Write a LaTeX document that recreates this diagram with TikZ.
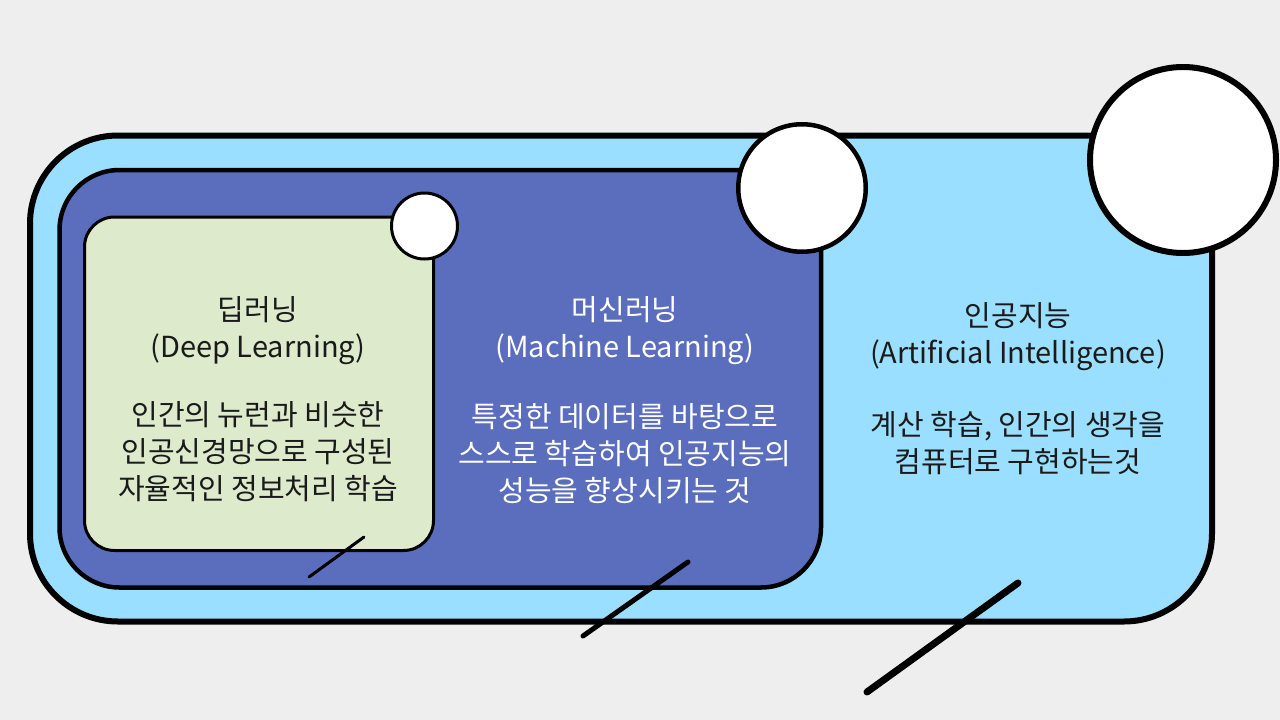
\documentclass[tikz,border=0pt]{standalone}
\usepackage{fontspec}
\usepackage{tikz}
\newfontfamily\kr{Noto Sans CJK KR}
\definecolor{bgray}{HTML}{EEEEEE}
\definecolor{aiblue}{HTML}{9ADFFF}
\definecolor{mlblue}{HTML}{5B6EBD}
\definecolor{dlgreen}{HTML}{DDEACC}
\definecolor{ink}{HTML}{1A1A1A}

\begin{document}
\begin{tikzpicture}[x=1pt, y=-1pt,
  field/.style={draw=black, rectangle, anchor=north west, outer sep=0pt, inner sep=0pt},
  dot/.style={draw=black, fill=white, circle, outer sep=0pt, inner sep=0pt},
  txt/.style={align=center, font=\kr\fontsize{29}{37}\selectfont, text=ink},
  stroke/.style={line cap=round}]
 \fill[bgray] (0,0) rectangle (1280,720);
 \useasboundingbox (0,0) rectangle (1280,720);
 \node[field, fill=aiblue, line width=6pt, rounded corners=88pt, minimum width=1182pt, minimum height=486pt] (ai) at (30,135.5) {};
 \node[dot, line width=6pt, minimum size=186pt] (aidot) at (1183,160) {};
 \node[field, fill=mlblue, line width=4.5pt, rounded corners=60pt, minimum width=761.5pt, minimum height=417.5pt] (ml) at (59.5,170) {};
 \node[dot, line width=4.5pt, minimum size=127.5pt] (mldot) at (802,188) {};
 \node[field, fill=dlgreen, line width=3pt, rounded corners=30pt, minimum width=349pt, minimum height=333.5pt] (dl) at (84.5,217) {};
 \node[dot, line width=3pt, minimum size=66pt] (dldot) at (424.5,226) {};
 \coordinate (dl-a) at (309,577);
 \coordinate (dl-b) at (364,537);
 \coordinate (ml-a) at (583,636);
 \coordinate (ml-b) at (688,562);
 \coordinate (ai-a) at (867,692);
 \coordinate (ai-b) at (1018,583);
 \draw[stroke, line width=3pt] (dl-a) -- (dl-b);
 \draw[stroke, line width=5pt] (ml-a) -- (ml-b);
 \draw[stroke, line width=7pt] (ai-a) -- (ai-b);
 \node[txt] (dltitle) at (258,331) {딥러닝\\(Deep Learning)};
 \node[txt] (dltext) at (258,452) {인간의 뉴런과 비슷한\\인공신경망으로 구성된\\자율적인 정보처리 학습};
 \node[txt, text=white] (mltitle) at (625,331) {머신러닝\\(Machine Learning)};
 \node[txt, text=white] (mltext) at (625,454) {특정한 데이터를 바탕으로\\스스로 학습하여 인공지능의\\성능을 향상시키는 것};
 \node[txt] (aititle) at (1018,337) {인공지능\\(Artificial Intelligence)};
 \node[txt] (aitext) at (1018,443) {계산 학습, 인간의 생각을\\컴퓨터로 구현하는것};
\end{tikzpicture}
\end{document}
